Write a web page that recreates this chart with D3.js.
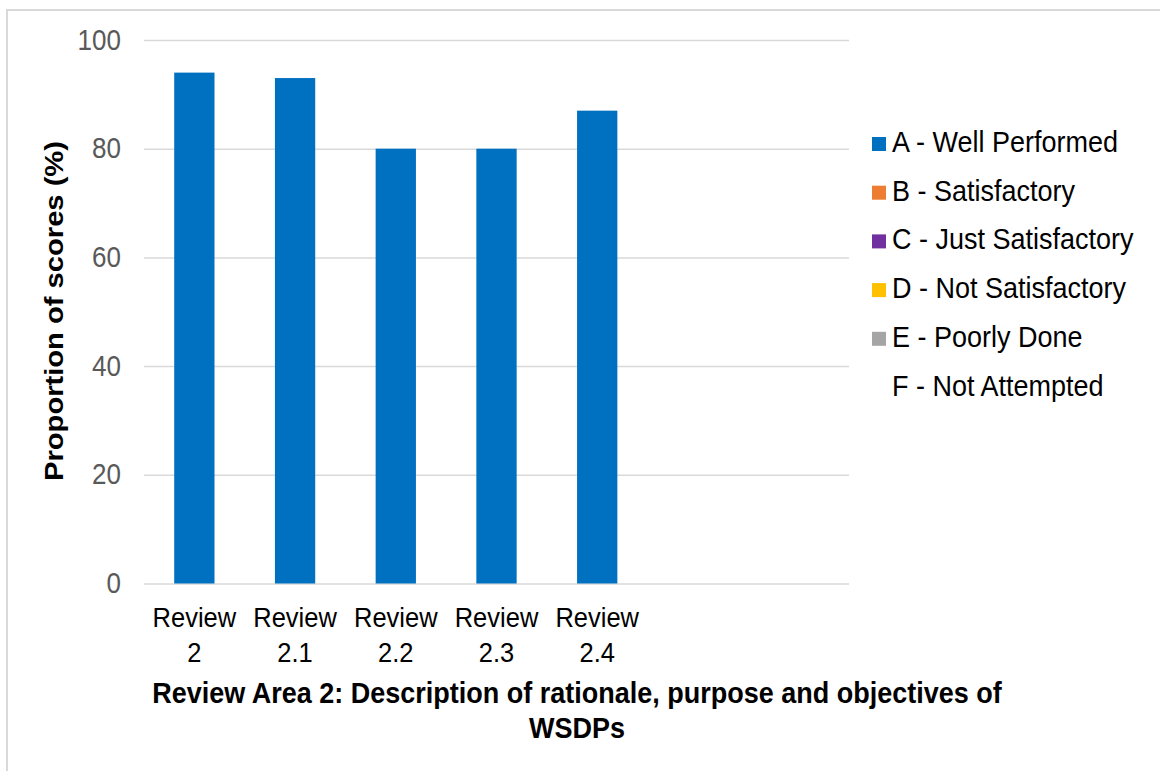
<!DOCTYPE html>
<html>
<head>
<meta charset="utf-8">
<script src="https://cdn.jsdelivr.net/npm/d3@7"></script>
<style>
  html, body { margin: 0; padding: 0; background: #fff; }
  svg { display: block; font-family: "Liberation Sans", Arial, sans-serif; }
</style>
</head>
<body>
<svg id="chart" width="1160" height="771"></svg>
<script>
// Review categories (the last two slots are blank on the axis)
const categories = ["Review 2", "Review 2.1", "Review 2.2", "Review 2.3", "Review 2.4", "", ""];

// Proportion of scores (%) per grade
const wellPerformed     = [94, 93, 80, 80, 87, 0, 0];
const satisfactory      = [0, 0, 0, 0, 0, 0, 0];
const justSatisfactory  = [0, 0, 0, 0, 0, 0, 0];
const notSatisfactory   = [0, 0, 0, 0, 0, 0, 0];
const poorlyDone        = [0, 0, 0, 0, 0, 0, 0];
const notAttempted      = [0, 0, 0, 0, 0, 0, 0];

const seriesNames = ["A - Well Performed", "B - Satisfactory", "C - Just Satisfactory",
                     "D - Not Satisfactory", "E - Poorly Done", "F - Not Attempted"];
const yTicks = [0, 20, 40, 60, 80, 100];

const seriesValues = [wellPerformed, satisfactory, justSatisfactory, notSatisfactory, poorlyDone, notAttempted];
const seriesColors = ["#0070C0", "#ED7D31", "#7030A0", "#FFC000", "#A5A5A5", "#FFFFFF"];

const svg = d3.select("#chart");
const stretch = 1.1;   // text is drawn slightly tall
const plot = { left: 144, right: 849, top: 40, bottom: 583.5 };

// outer chart frame
svg.append("rect")
  .attr("x", 7).attr("y", 10)
  .attr("width", 1200).attr("height", 800)
  .attr("fill", "none").attr("stroke", "#D9D9D9").attr("stroke-width", 2);

const x = d3.scaleBand()
  .domain(d3.range(categories.length))
  .range([plot.left, plot.right])
  .paddingInner(0.6)
  .paddingOuter(0.3);

const y = d3.scaleLinear().domain([0, 100]).range([plot.bottom, plot.top]);

// y axis with gridlines
const yAxis = svg.append("g")
  .attr("transform", `translate(${plot.left},0)`)
  .call(d3.axisLeft(y).tickValues(yTicks).tickSize(-(plot.right - plot.left)).tickPadding(23));
yAxis.select(".domain").remove();
yAxis.selectAll(".tick line").attr("stroke", "#D9D9D9").attr("stroke-width", 1.5);
yAxis.selectAll(".tick text")
  .attr("fill", "#595959")
  .style("font-size", "26px")
  .style("font-family", "'Liberation Sans', Arial, sans-serif")
  .attr("transform", `scale(1,${stretch})`);

// stacked bars
const table = categories.map((c, i) => {
  const row = { idx: i };
  seriesNames.forEach((s, k) => { row[s] = seriesValues[k][i]; });
  return row;
});
const stacked = d3.stack().keys(seriesNames)(table);

svg.append("g").selectAll("g")
  .data(stacked)
  .join("g")
  .attr("fill", (d, k) => seriesColors[k])
  .selectAll("rect")
  .data(d => d.filter(p => p[1] - p[0] > 0))
  .join("rect")
  .attr("x", d => x(d.data.idx))
  .attr("width", x.bandwidth())
  .attr("y", d => y(d[1]))
  .attr("height", d => y(d[0]) - y(d[1]));

// category labels (two lines)
const catG = svg.append("g").selectAll("g")
  .data(categories.map((c, i) => ({ c, i })).filter(d => d.c !== ""))
  .join("g")
  .attr("transform", d => `translate(${x(d.i) + x.bandwidth() / 2},627) scale(1,${stretch})`);
catG.append("text")
  .attr("text-anchor", "middle")
  .attr("fill", "#000")
  .style("font-size", "25.5px")
  .text(d => d.c.split(" ")[0]);
catG.append("text")
  .attr("text-anchor", "middle")
  .attr("y", 35 / stretch)
  .attr("fill", "#000")
  .style("font-size", "25.5px")
  .text(d => d.c.split(" ").slice(1).join(" "));

// axis titles
const yTitle = svg.append("g")
  .attr("transform", `translate(63,311) scale(1,${stretch}) rotate(-90)`);
yTitle.append("text")
  .attr("text-anchor", "middle")
  .attr("fill", "#000")
  .style("font-size", "26.5px")
  .style("font-weight", "bold")
  .text("Proportion of scores (%)");

const xTitleLines = ["Review Area 2: Description of rationale, purpose and objectives of", "WSDPs"];
xTitleLines.forEach((t, i) => {
  svg.append("g")
    .attr("transform", `translate(577,${703 + i * 34.5}) scale(1,${stretch})`)
    .append("text")
    .attr("text-anchor", "middle")
    .attr("fill", "#000")
    .style("font-size", "27px")
    .style("font-weight", "bold")
    .text(t);
});

// legend
const legend = svg.append("g").selectAll("g")
  .data(seriesNames)
  .join("g")
  .attr("transform", (d, i) => `translate(872,${152 + i * 48.7})`);
legend.append("rect")
  .attr("x", 0).attr("y", -15)
  .attr("width", 14).attr("height", 14)
  .attr("fill", (d, i) => seriesColors[i]);
legend.append("text")
  .attr("x", 20)
  .attr("transform", `scale(1,${stretch})`)
  .attr("fill", "#000")
  .style("font-size", "27px")
  .text(d => d);
</script>
</body>
</html>
